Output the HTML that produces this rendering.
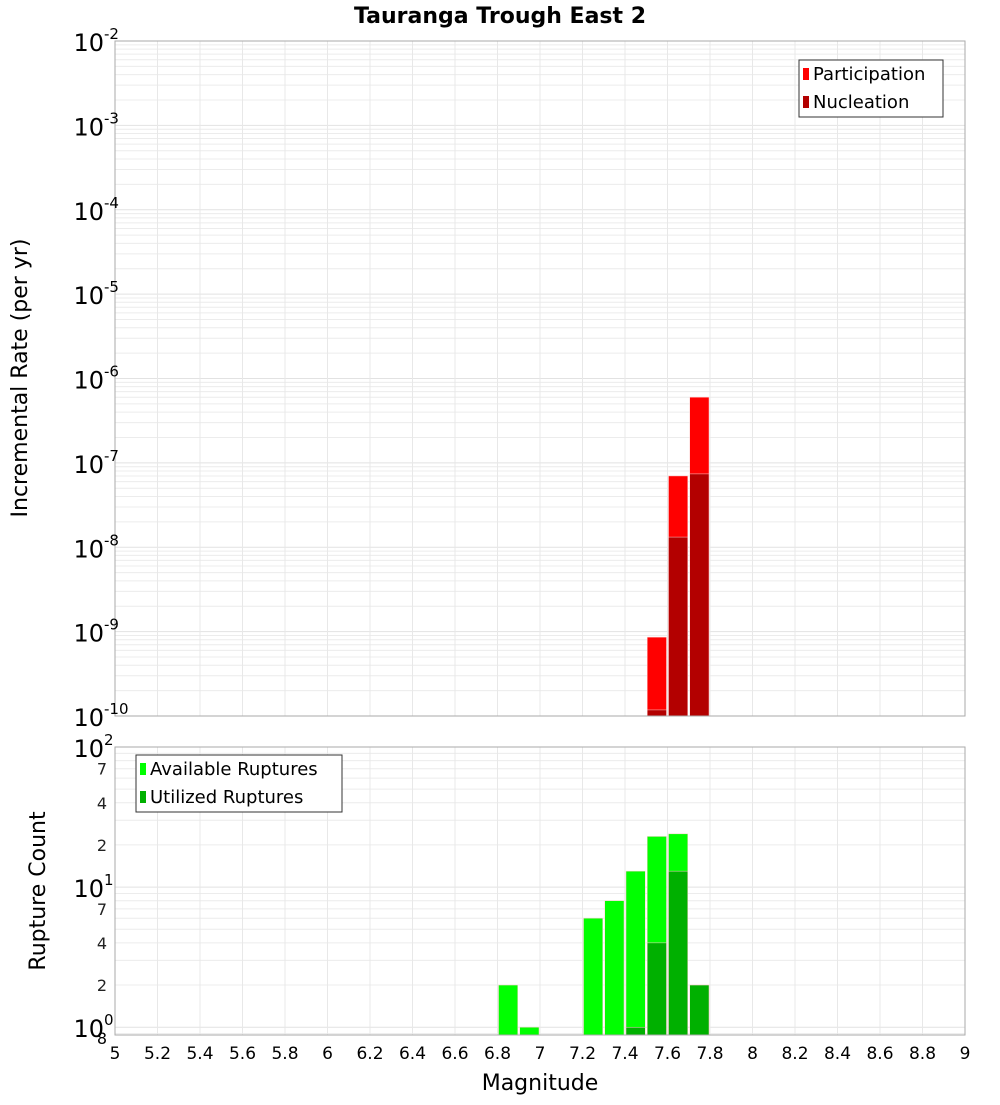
<!DOCTYPE html>
<html><head><meta charset="utf-8"><style>
body{margin:0;background:#fff;font-family:"Liberation Sans","DejaVu Sans",sans-serif}
svg text{font-family:"DejaVu Sans","Liberation Sans",sans-serif}
</style></head><body>
<svg id="c" width="1000" height="1100" xmlns="http://www.w3.org/2000/svg">
<text x="500" y="23" text-anchor="middle" font-size="22" font-weight="bold">Tauranga Trough East 2</text>
<g id="topPanel"></g>
<g id="botPanel"></g>
<text transform="translate(27,378) rotate(-90)" text-anchor="middle" font-size="22">Incremental Rate (per yr)</text>
<text transform="translate(45,891) rotate(-90)" text-anchor="middle" font-size="22">Rupture Count</text>
<text x="540" y="1090" text-anchor="middle" font-size="22">Magnitude</text>
</svg>
<script>
const magBins=[6.8,6.9,7.0,7.1,7.2,7.3,7.4,7.5,7.6,7.7];
const participation=[0,0,0,0,0,0,0,8.6e-10,7e-8,6e-7];
const nucleation=[0,0,0,0,0,0,0,1.18e-10,1.32e-8,7.4e-8];
const available=[2,1,0,0,6,8,13,23,24,2];
const utilized=[0,0,0,0,0,0,1,4,13,2];
const xTicks=[5,5.2,5.4,5.6,5.8,6,6.2,6.4,6.6,6.8,7,7.2,7.4,7.6,7.8,8,8.2,8.4,8.6,8.8,9];
const rateExps=[-10,-9,-8,-7,-6,-5,-4,-3,-2];
const countExps=[0,1,2];
const countMinor=[2,4,7];

const NS="http://www.w3.org/2000/svg";
const L=115,R=965;
const X=m=>L+(m-5)/4*(R-L);
const T1=41,B1=716,yTop=v=>T1+(-2-Math.log10(v))/8*(B1-T1);
const T2=747,B2=1035,cMin=0.88,yBot=v=>T2+(2-Math.log10(v))/(2-Math.log10(cMin))*(B2-T2);
function el(p,t,a){const e=document.createElementNS(NS,t);for(const k in a)e.setAttribute(k,a[k]);p.appendChild(e);return e;}
const gTop=document.getElementById('topPanel'),gBot=document.getElementById('botPanel');

function frame(g,T,B,yf,lo,hi){
  for(let d=lo;d<hi;d++)for(let k=1;k<=9;k++){const v=k*Math.pow(10,d);const y=yf(v);if(y<T||y>B)continue;
    const ln=el(g,'line',{x1:L,x2:R,y1:y,y2:y,stroke:k==1?'#e2e2e2':'#ececec','stroke-width':1});
    
    }
  xTicks.forEach(m=>{const ln=el(g,'line',{x1:X(m),x2:X(m),y1:T,y2:B,stroke:'#e8e8e8'});
    
    });
}
frame(gTop,T1,B1,yTop,-10,-2);
frame(gBot,T2,B2,yBot,-1,2);

function bars(g,vals,yf,B,color,name){
  vals.forEach((v,i)=>{if(v<=0)return;const x0=X(magBins[i])+1,x1=X(magBins[i]+0.1)-1;const y=Math.max(yf(v),0);
    const r=el(g,'rect',{x:x0,y:y,width:x1-x0,height:B-y,fill:color,stroke:'#ffd0d0','stroke-width':0.5});
    
    });
}
bars(gTop,participation,yTop,B1,'#ff0000','participation');
bars(gTop,nucleation,yTop,B1,'#b30000','nucleation');
bars(gBot,available,yBot,B2,'#00ff00','available');
bars(gBot,utilized,yBot,B2,'#00b000','utilized');

el(gTop,'rect',{x:L,y:T1,width:R-L,height:B1-T1,fill:'none',stroke:'#aaa'});
el(gBot,'rect',{x:L,y:T2,width:R-L,height:B2-T2,fill:'none',stroke:'#aaa'});

function powLabel(g,y,e,name){
  const t=el(g,'text',{x:104,y:y+10,'text-anchor':'end','font-size':24});
  
  
  t.textContent='10';
  const s=el(g,'text',{x:104,y:y-2,'font-size':15});
  
  
  s.textContent=String(e);
}
rateExps.forEach(e=>powLabel(gTop,yTop(Math.pow(10,e)),e,'rate-tick-label'));
countExps.forEach(e=>powLabel(gBot,yBot(Math.pow(10,e)),e,'count-tick-label'));
[0,1].forEach(d=>countMinor.forEach(k=>{const y=yBot(k*Math.pow(10,d));
  const t=el(gBot,'text',{x:107,y:y+6,'text-anchor':'end','font-size':16,fill:'#222'});
  
  
  t.textContent=k;}));
{const t=el(gBot,'text',{x:107,y:B2+9,'text-anchor':'end','font-size':16});
 
 
 t.textContent='8';}
xTicks.forEach(m=>{const t=el(gBot,'text',{x:X(m),y:1059,'text-anchor':'middle','font-size':17});
  
  
  t.textContent=String(m);});

function legend(g,x,y,w,items){
  const b=el(g,'rect',{x:x,y:y,width:w,height:57,fill:'#fff',stroke:'#333'});
  
  
  items.forEach((it,i)=>{const yy=y+14+i*28;
    const s=el(g,'rect',{x:x+4,y:yy-6,width:6,height:12,fill:it[1]});
    
    
    const t=el(g,'text',{x:x+14,y:yy+6,'font-size':18});
    
    
    t.textContent=it[0];});
}
legend(gTop,799,60,144,[['Participation','#ff0000'],['Nucleation','#b30000']]);
legend(gBot,136,755,206,[['Available Ruptures','#00ff00'],['Utilized Ruptures','#00b000']]);
</script>
</body></html>
